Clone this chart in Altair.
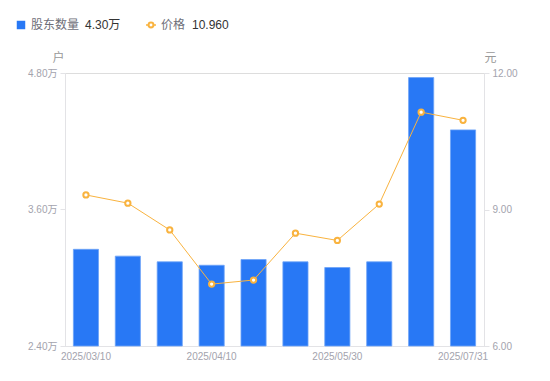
import altair as alt
import pandas as pd

dates = ["2025/03/10", "2025/03/20", "2025/03/31", "2025/04/10", "2025/04/30",
         "2025/05/20", "2025/05/30", "2025/06/30", "2025/07/20", "2025/07/31"]
holders = [3.25, 3.19, 3.14, 3.11, 3.16, 3.14, 3.09, 3.14, 4.76, 4.30]  # 万户
price = [9.32, 9.14, 8.55, 7.36, 7.45, 8.48, 8.32, 9.12, 11.14, 10.96]
shown_dates = [dates[0], dates[3], dates[6], dates[9]]
left_ticks = [2.40, 3.60, 4.80]
right_ticks = [6.00, 9.00, 12.00]

BLUE = "#2878f5"
ORANGE = "#f9b33f"
AXIS_GREY = "#e3e3e6"
LABEL_GREY = "#a3a3ad"
FONT = "Liberation Sans, Noto Sans CJK SC"

df = pd.DataFrame({"date": dates, "holders": holders, "price": price})

xenc = alt.X("date:N", sort=dates,
             scale=alt.Scale(paddingInner=0.4, paddingOuter=0.2),
             axis=alt.Axis(title=None, values=shown_dates, labelAngle=0, ticks=False,
                           domainColor=AXIS_GREY, labelColor=LABEL_GREY, labelFontSize=10,
                           labelPadding=5, labelFont=FONT, grid=False))

bars = alt.Chart(df).mark_bar(color=BLUE, stroke="#6da3f7", strokeWidth=0.8).encode(
    x=xenc,
    y=alt.Y("holders:Q", scale=alt.Scale(domain=[2.4, 4.8], zero=False, nice=False),
            axis=alt.Axis(values=left_ticks, labelExpr="format(datum.value, '.2f') + '万'",
                          title="户", titleAngle=0, titleX=-7, titleY=-16,
                          titleColor="#999999", titleFontWeight="normal", titleFontSize=12,
                          titleFont=FONT, titleAlign="center", titleBaseline="middle",
                          domainColor=AXIS_GREY, tickColor=AXIS_GREY, tickSize=5,
                          labelColor=LABEL_GREY, labelFontSize=10, labelFont=FONT,
                          labelPadding=3, grid=False, orient="left")),
    y2=alt.datum(2.4),
)

line = alt.Chart(df).mark_line(color=ORANGE, strokeWidth=1).encode(
    x=alt.X("date:N", sort=dates),
    y=alt.Y("price:Q", scale=alt.Scale(domain=[6, 12], zero=False, nice=False),
            axis=alt.Axis(values=right_ticks, format=".2f", orient="right",
                          title="元", titleAngle=0, titleX=6, titleY=-16,
                          titleColor="#999999", titleFontWeight="normal", titleFontSize=12,
                          titleFont=FONT, titleAlign="center", titleBaseline="middle",
                          domainColor=AXIS_GREY, tickColor=AXIS_GREY, tickSize=5,
                          labelColor=LABEL_GREY, labelFontSize=10, labelFont=FONT,
                          labelPadding=3, grid=False)),
)
points = alt.Chart(df).mark_point(shape="circle", filled=True, fill="white", stroke=ORANGE,
                                  strokeWidth=2, size=28, opacity=1).encode(
    x=alt.X("date:N", sort=dates),
    y=alt.Y("price:Q"),
)
price_layer = alt.layer(line, points)

ldf = pd.DataFrame({"k": [0]})
LY = -48
leg_sq = alt.Chart(ldf).mark_square(color=BLUE, size=72, opacity=1).encode(
    x=alt.value(-44), y=alt.value(LY))
leg_t1 = alt.Chart(ldf).mark_text(align="left", baseline="middle", fontSize=12,
                                  color="#6e6e78", font=FONT).encode(
    x=alt.value(-34), y=alt.value(LY), text=alt.value("股东数量"))
leg_v1 = alt.Chart(ldf).mark_text(align="left", baseline="middle", fontSize=12,
                                  color="#333333", font=FONT).encode(
    x=alt.value(20), y=alt.value(LY), text=alt.value(f"{holders[-1]:.2f}万"))
leg_ln = alt.Chart(ldf).mark_rule(color=ORANGE, strokeWidth=1.5).encode(
    x=alt.value(81), x2=alt.value(91), y=alt.value(LY))
leg_pt = alt.Chart(ldf).mark_point(shape="circle", filled=True, fill="white", stroke=ORANGE,
                                   strokeWidth=2, size=24, opacity=1).encode(
    x=alt.value(86), y=alt.value(LY))
leg_t2 = alt.Chart(ldf).mark_text(align="left", baseline="middle", fontSize=12,
                                  color="#6e6e78", font=FONT).encode(
    x=alt.value(96), y=alt.value(LY), text=alt.value("价格"))
leg_v2 = alt.Chart(ldf).mark_text(align="left", baseline="middle", fontSize=12,
                                  color="#333333", font=FONT).encode(
    x=alt.value(127), y=alt.value(LY), text=alt.value(f"{price[-1]:.3f}"))

chart = alt.layer(
    bars, price_layer, leg_sq, leg_t1, leg_v1, leg_ln, leg_pt, leg_t2, leg_v2
).resolve_scale(y="independent").properties(
    width=419, height=273,
    autosize=alt.AutoSizeParams(type="none"),
    padding={"left": 57, "top": 65, "right": 58, "bottom": 27},
).configure_view(stroke=None).configure(background="white")

chart.save("out.html", embed_options={"renderer": "svg", "actions": False})
